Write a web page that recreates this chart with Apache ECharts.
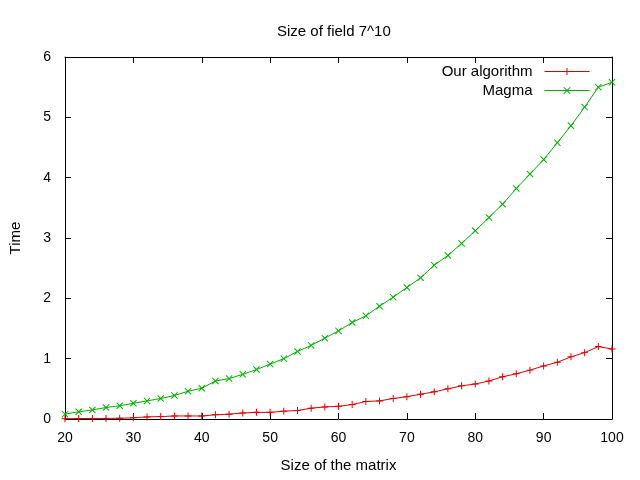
<!DOCTYPE html>
<html>
<head>
<meta charset="utf-8">
<script src="https://cdn.jsdelivr.net/npm/echarts@6/dist/echarts.min.js"></script>
<style>html,body{margin:0;padding:0;background:#fff}#c{width:640px;height:480px}</style>
</head>
<body>
<div id="c"></div>
<script>
var sizes = [20,22,24,26,28,30,32,34,36,38,40,42,44,46,48,50,52,54,56,58,60,62,64,66,68,70,72,74,76,78,80,82,84,86,88,90,92,94,96,98,100];
var ourAlgorithm = [0.005,0.007,0.008,0.01,0.012,0.02,0.035,0.04,0.05,0.05,0.05,0.07,0.08,0.10,0.11,0.11,0.13,0.14,0.18,0.20,0.21,0.24,0.29,0.30,0.34,0.37,0.41,0.45,0.50,0.55,0.58,0.63,0.70,0.75,0.81,0.88,0.94,1.03,1.10,1.20,1.16];
var magma = [0.08,0.12,0.15,0.19,0.22,0.26,0.30,0.34,0.39,0.46,0.51,0.63,0.67,0.74,0.82,0.91,1.00,1.12,1.22,1.34,1.46,1.60,1.71,1.87,2.02,2.18,2.34,2.55,2.71,2.91,3.12,3.34,3.56,3.82,4.06,4.30,4.58,4.86,5.17,5.50,5.58];
var xTicks = [20,30,40,50,60,70,80,90,100];
var yTicks = [0,1,2,3,4,5,6];

var FONT = 'Liberation Sans';
var RED = '#e00000', GREEN = '#00b000';
var PLUS = 'path://M4.3,0H5.7V4.3H10V5.7H5.7V10H4.3V5.7H0V4.3H4.3Z';
var CROSS = 'path://M0,1L1,0L5,4L9,0L10,1L6,5L10,9L9,10L5,6L1,10L0,9L4,5Z';

function pairs(ys){ return sizes.map(function(x,i){ return [x, ys[i]]; }); }

var axisCommon = {
  axisLine:{show:true, onZero:false, lineStyle:{color:'#000', width:1}},
  axisTick:{show:true, inside:true, length:6, lineStyle:{color:'#000', width:1}},
  splitLine:{show:false}
};
function xAx(pos, labels){
  return Object.assign({}, axisCommon, {
    type:'value', position:pos, min:xTicks[0], max:xTicks[xTicks.length-1], interval:xTicks[1]-xTicks[0],
    axisLabel:{show:labels, color:'#000', fontSize:14, fontFamily:FONT, margin:12},
    name: labels ? 'Size of the matrix' : '', nameLocation:'middle', nameGap:39,
    nameTextStyle:{color:'#000', fontSize:15, fontFamily:FONT}
  });
}
function yAx(pos, labels){
  return Object.assign({}, axisCommon, {
    type:'value', position:pos, min:yTicks[0], max:yTicks[yTicks.length-1], interval:yTicks[1]-yTicks[0],
    axisLabel:{show:labels, color:'#000', fontSize:14, fontFamily:FONT, margin:14},
    name: labels ? 'Time' : '', nameLocation:'middle', nameGap:42, nameRotate:90,
    nameTextStyle:{color:'#000', fontSize:15, fontFamily:FONT}
  });
}

var chart = echarts.init(document.getElementById('c'));
chart.setOption({
  animation:false,
  backgroundColor:'#fff',
  title:{text:'Size of field 7^10', left:272, top:19,
    textStyle:{color:'#000', fontSize:15, fontWeight:'normal', fontFamily:FONT}},
  grid:{left:65, right:28, top:57, bottom:61, containLabel:false},
  legend:{
    orient:'vertical', right:45, top:59, align:'right',
    itemWidth:45, itemHeight:9, itemGap:4,
    lineStyle:{width:1},
    textStyle:{color:'#000', fontSize:15, fontFamily:FONT, lineHeight:15, padding:[0,7,0,0]},
    data:['Our algorithm','Magma']
  },
  xAxis:[xAx('bottom', true), xAx('top', false)],
  yAxis:[yAx('left', true), yAx('right', false)],
  series:[
    {name:'Our algorithm', type:'line', xAxisIndex:0, yAxisIndex:0, data:pairs(ourAlgorithm),
     symbol:PLUS, symbolSize:7, showAllSymbol:true,
     lineStyle:{color:RED, width:1}, itemStyle:{color:RED}},
    {name:'Magma', type:'line', xAxisIndex:0, yAxisIndex:0, data:pairs(magma),
     symbol:CROSS, symbolSize:7, showAllSymbol:true,
     lineStyle:{color:GREEN, width:1}, itemStyle:{color:GREEN}}
  ]
});
</script>
</body>
</html>
